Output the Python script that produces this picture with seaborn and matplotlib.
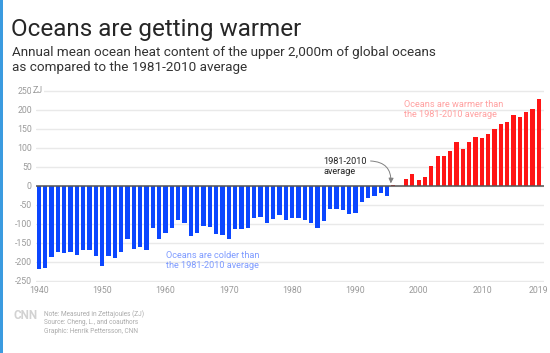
import matplotlib
matplotlib.use("Agg")
import matplotlib.pyplot as plt
from matplotlib.patches import Rectangle
import seaborn as sns
import pandas as pd

# ---- data ----
years = list(range(1940, 2020))
heat = [
    -219, -216, -187, -175, -176, -175, -183, -170, -170, -184,   # 1940s
    -210, -184, -189, -174, -140, -167, -161, -169, -112, -139,   # 1950s
    -124, -110, -89, -99, -132, -125, -106, -108, -127, -130,     # 1960s
    -140, -115, -114, -112, -84, -82, -99, -88, -78, -90,         # 1970s
    -84, -84, -89, -98, -110, -93, -60, -61, -65, -74,            # 1980s
    -73, -42, -33, -26, -18, -28, 3, 0, 18, 32,                   # 1990s
    14, 24, 51, 77, 78, 90, 114, 97, 114, 128,                    # 2000s
    125, 135, 148, 162, 168, 185, 180, 193, 203, 228,             # 2010s
]
ytick_vals = [-250, -200, -150, -100, -50, 0, 50, 100, 150, 200, 250]
ytick_labels = ["-250", "-200", "-150", "-100", "-50", "0", "50", "100", "150", "200", "250"]
xtick_vals = [1940, 1950, 1960, 1970, 1980, 1990, 2000, 2010, 2019]
xtick_labels = ["1940", "1950", "1960", "1970", "1980", "1990", "2000", "2010", "2019"]

title = "Oceans are getting warmer"
subtitle_lines = ["Annual mean ocean heat content of the upper 2,000m of global oceans",
                  "as compared to the 1981-2010 average"]
cold_note = "Oceans are colder than\nthe 1981-2010 average"
warm_note = "Oceans are warmer than\nthe 1981-2010 average"
avg_note = "1981-2010\naverage"
footer = ["Note: Measured in Zettajoules (ZJ)",
          "Source: Cheng, L., and coauthors",
          "Graphic: Henrik Pettersson, CNN"]

df = pd.DataFrame({"year": years, "heat": heat})
df["sign"] = ["warm" if v > 0 else "cold" for v in df["heat"]]

sns.set_theme(style="white")
plt.rcParams["font.family"] = ["Roboto", "DejaVu Sans"]

W, H = 550, 353
fig = plt.figure(figsize=(W / 100, H / 100), dpi=100)
fig.patch.set_facecolor("white")


def fx(px):
    return px / W


def fy(py):
    return 1 - py / H


ax = fig.add_axes([fx(36), fy(281.5), fx(544) - fx(36), fy(89.9) - fy(281.5)])

sns.barplot(data=df, x="year", y="heat", hue="sign",
            palette={"cold": "#0b46ff", "warm": "#ff1515"},
            native_scale=True, dodge=False, width=0.68, saturation=1,
            legend=False, ax=ax, edgecolor="none", linewidth=0)

ax.set_xlim(1939.55, 2019.8)
ax.set_ylim(-252, 252)
ax.set_axisbelow(True)
ax.yaxis.grid(True, color="#e9e9e9", linewidth=1)
ax.xaxis.grid(False)
ax.axhline(0, color="#555555", linewidth=1.1, zorder=1)
for s in ax.spines.values():
    s.set_visible(False)

ax.set_yticks(ytick_vals)
ax.set_yticklabels(ytick_labels)
ax.set_xticks(xtick_vals)
ax.set_xticklabels(xtick_labels)
ax.tick_params(axis="y", length=0, pad=3, labelsize=6.3, labelcolor="#9a9a9a")
ax.tick_params(axis="x", length=2, width=0.6, color="#dddddd", pad=3,
               labelsize=6.3, labelcolor="#9a9a9a", direction="in")
ax.set_xlabel("")
ax.set_ylabel("")

# "ZJ" unit next to top label
fig.text(fx(32.6), fy(90.7), "ZJ", fontsize=6.3, color="#9a9a9a", ha="left", va="center",
         bbox=dict(facecolor="white", edgecolor="none", pad=1.2))

# annotations
ax.text(1960.1, -197, cold_note, fontsize=6.6, color="#7e9bff", ha="left", va="center",
        linespacing=1.15)
ax.text(1997.7, 201, warm_note, fontsize=6.6, color="#ffa0a0", ha="left", va="center",
        linespacing=1.15)
ax.text(1984.9, 51, avg_note, fontsize=6.6, color="#222222", ha="left", va="center",
        linespacing=1.15)
ax.annotate("", xy=(1995.6, 6), xytext=(1992.4, 65),
            arrowprops=dict(arrowstyle="-|>,head_length=0.25,head_width=0.12",
                            color="#808080", lw=0.7,
                            connectionstyle="arc3,rad=-0.5", shrinkA=0, shrinkB=0))

# titles
fig.text(fx(11), fy(36), title, fontsize=17.5, color="#262626", ha="left", va="baseline")
for i, line in enumerate(subtitle_lines):
    fig.text(fx(12), fy(56 + 15.5 * i), line, fontsize=9.7, color="#333333",
             ha="left", va="baseline")

# footer
fig.text(fx(13.5), fy(315.5), "CNN", fontsize=8.5, color="#d2d2d2", ha="left", va="center",
         fontweight="bold")
for i, line in enumerate(footer):
    fig.text(fx(44), fy(314 + 8.6 * i), line, fontsize=4.7, color="#ababab",
             ha="left", va="center")

# left blue border strip of the screenshot
fig.patches.append(Rectangle((0, 0), fx(3), 1, transform=fig.transFigure,
                             facecolor="#3b9be0", edgecolor="none"))

fig.savefig("out.png", dpi=100, facecolor="white")
